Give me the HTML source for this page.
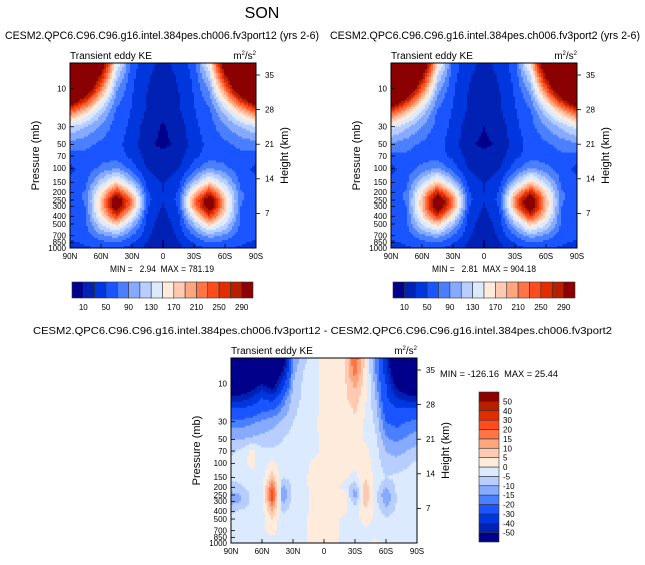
<!DOCTYPE html>
<html><head><meta charset="utf-8">
<style>
body{margin:0;background:#fff;width:645px;height:565px;overflow:hidden}
svg{display:block;font-family:"Liberation Sans",sans-serif}
text{white-space:pre}
</style></head>
<body>
<svg id="fig" width="645" height="565" viewBox="0 0 645 565">
<text x="262" y="18" font-size="16" text-anchor="middle">SON</text>
</svg>
<script>
const levels=[5,7,10,15,20,30,50,70,100,150,200,250,300,400,500,700,850,1000];
const lats13=[90,75,60,45,30,15,0,-15,-30,-45,-60,-75,-90];
const lats19=[90,80,70,60,50,40,30,20,10,0,-10,-20,-30,-40,-50,-60,-70,-80,-90];
const keBounds=[10,30,50,70,90,110,130,150,170,190,210,230,250,270,290];
const keLabels=["10","50","90","130","170","210","250","290"];
const diffBounds=[-50,-40,-30,-20,-15,-10,-5,0,5,10,15,20,30,40,50];
const diffLabels=["-50","-40","-30","-20","-15","-10","-5","0","5","10","15","20","30","40","50"];
const colors=["#00008b","#0021b3","#0036dd","#1a55ff","#4a80ff","#86aaff","#b7ceff","#dceaff","#ffebdc","#ffcab1","#ffa67f","#ff7547","#ff4c1f","#e22d00","#b42000","#8b0000"];
const pTicks=[10,30,50,70,100,150,200,250,300,400,500,700,850,1000];
const hTicks=[35,28,21,14,7];
const xTicks=["90N","60N","30N","0","30S","60S","90S"];
const ke1=[
[400,400,330,150,60,35,25,35,60,150,330,400,400],
[400,400,280,120,55,32,22,32,55,120,280,400,400],
[400,360,220,95,52,30,20,30,52,95,220,360,400],
[320,240,150,75,50,28,18,28,50,75,150,240,320],
[220,170,115,65,48,26,14,26,48,65,115,170,220],
[130,110,85,60,45,18,8,18,45,60,85,110,130],
[80,75,65,55,42,12,7,12,42,55,65,75,80],
[60,65,60,58,45,20,14,20,45,58,60,65,60],
[45,58,75,90,60,28,20,28,60,90,75,58,45],
[55,65,120,170,110,42,28,42,110,170,120,65,55],
[60,72,160,260,170,52,30,52,170,260,160,72,60],
[60,72,180,330,215,56,32,56,215,330,180,72,60],
[60,70,180,330,205,52,28,52,205,330,180,70,60],
[58,68,160,250,150,44,22,44,150,250,160,68,58],
[55,65,130,180,110,40,18,40,110,180,130,65,55],
[52,58,85,100,70,34,14,34,70,100,85,58,52],
[48,52,65,70,52,28,8,28,52,70,65,52,48],
[45,48,52,52,42,25,8,25,42,52,52,48,45]];
const ke2=[
[420,420,360,165,62,35,25,35,62,165,360,420,420],
[420,420,300,130,57,32,22,32,57,130,300,420,420],
[420,380,235,100,53,30,20,30,53,100,235,380,420],
[340,255,160,78,50,28,18,28,50,78,160,255,340],
[235,180,120,66,48,26,14,26,48,66,120,180,235],
[140,115,88,62,45,18,10,18,45,62,88,115,140],
[85,78,66,56,42,12,7,12,42,56,66,78,85],
[62,66,60,58,45,20,14,20,45,58,60,66,62],
[45,58,76,92,60,28,20,28,60,92,76,58,45],
[55,65,122,175,112,42,28,42,112,175,122,65,55],
[60,72,165,270,175,52,30,52,175,270,165,72,60],
[60,72,185,345,220,56,32,56,220,345,185,72,60],
[60,70,185,345,210,52,28,52,210,345,185,70,60],
[58,68,162,255,152,44,22,44,152,255,162,68,58],
[55,65,132,182,110,40,18,40,110,182,132,65,55],
[52,58,85,100,70,34,14,34,70,100,85,58,52],
[48,52,65,70,52,28,8,28,52,70,65,52,48],
[45,48,52,52,42,25,8,25,42,52,52,48,45]];
const diff=[
[-80,-80,-80,-70,-80,-60,-15,-6,-3,2,3,5,20,3,-15,-35,-80,-80,-80],
[-80,-80,-75,-60,-70,-50,-12,-5,-3,2,3,5,18,3,-15,-35,-70,-80,-80],
[-70,-70,-60,-50,-60,-35,-10,-4,-3,2,3,4,12,2,-12,-30,-55,-70,-70],
[-45,-45,-40,-30,-35,-20,-8,-4,-2,2,3,4,8,1,-10,-28,-40,-45,-45],
[-30,-30,-28,-22,-22,-15,-7,-3,-2,2,3,3,6,0,-8,-25,-30,-30,-30],
[-18,-18,-16,-14,-12,-9,-5,-3,-1,2,3,2,4,-1,-6,-20,-22,-20,-18],
[-10,-10,-9,-8,-7,-5,-3,-2,-1,1,2,1,2,-1,-4,-14,-16,-14,-12],
[-6,-4,2,-4,-4,-4,-3,-2,-1,1,1,1,2,2,-3,-10,-12,-10,-8],
[-4,-3,2,-3,2,-3,-3,-2,1,1,1,2,2,3,-3,-7,-8,-6,-4],
[-3,-3,-2,-2,8,-5,-3,-1,2,1,1,1,-2,5,-2,-5,-4,-3,-3],
[-8,-6,-3,-3,20,-12,-4,-1,1,2,2,-2,-10,8,-2,-10,-4,-3,-3],
[-12,-10,-4,-3,25,-15,-3,-1,1,2,2,3,-14,10,-3,-15,-5,-3,-3],
[-12,-10,-4,-3,20,-12,-3,-1,1,2,1,2,-8,8,-3,-13,-5,-3,-3],
[-6,-4,-3,-2,10,-6,-2,-1,1,2,1,1,-3,4,-2,-8,-4,-3,-3],
[-3,-3,-2,-2,5,-4,-2,-1,2,2,1,-1,-2,2,-1,-4,-3,-3,-3],
[-2,-2,-2,-1,2,-3,-2,-1,2,3,1,-1,-1,-1,-1,-2,-2,-2,-2],
[-2,-2,-2,-1,-1,-2,-1,-1,2,3,1,-1,-1,-1,-1,-2,-2,-2,-2],
[-2,-2,-3,-6,-2,-1,-1,-1,3,3,1,-1,-1,-1,2,-1,-2,-2,-2]];

const NS="http://www.w3.org/2000/svg";
const fig=document.getElementById('fig');
function el(tag,attrs,parent,txt){const e=document.createElementNS(NS,tag);for(const k in attrs)e.setAttribute(k,attrs[k]);if(txt!==undefined)e.textContent=txt;(parent||fig).appendChild(e);return e;}
const PTOP=4.76,PBOT=1000;
function bin(v,b){let i=0;while(i<b.length&&v>=b[i])i++;return i;}
function interp(lats,vals,lat,p){
  const lp=Math.log(p);let r=0;
  while(r<levels.length-2&&p>levels[r+1])r++;
  let ty=(lp-Math.log(levels[r]))/(Math.log(levels[r+1])-Math.log(levels[r]));ty=Math.max(0,Math.min(1,ty));
  const step=(lats[0]-lats[lats.length-1])/(lats.length-1);
  let fx=(lats[0]-lat)/step;let c=Math.min(lats.length-2,Math.max(0,Math.floor(fx)));let tx=Math.max(0,Math.min(1,fx-c));
  const a=vals[r][c]*(1-tx)+vals[r][c+1]*tx,b=vals[r+1][c]*(1-tx)+vals[r+1][c+1]*tx;
  return a*(1-ty)+b*ty;}
function panel(g,x0,y0,w,h,lats,vals,bounds,name){
  const yP=p=>y0+h*(Math.log(p)-Math.log(PTOP))/(Math.log(PBOT)-Math.log(PTOP));
  const cg=el('g',{},g);
  
  
  const NX=93,NY=93,dx=w/NX,dy=h/NY;
  for(let j=0;j<NY;j++){
    const py=y0+(j+0.5)*dy;
    const p=Math.exp(Math.log(PTOP)+(py-y0)/h*(Math.log(PBOT)-Math.log(PTOP)));
    let start=0,cur=-1;
    for(let i=0;i<=NX;i++){
      let b=-2;
      if(i<NX){const lat=90-180*(i+0.5)/NX;b=bin(interp(lats,vals,lat,p),bounds);}
      if(b!==cur){
        if(cur>=0){const r=el('rect',{x:(x0+start*dx).toFixed(2),y:(y0+j*dy).toFixed(2),width:((i-start)*dx+0.4).toFixed(2),height:(dy+0.4).toFixed(2),fill:colors[cur]},cg);
          
          }
        cur=b;start=i;}
    }
  }
  const fr=el('rect',{x:x0,y:y0,width:w,height:h,fill:'none',stroke:'#000','stroke-width':1},g);
  
  
  pTicks.forEach(p=>{const y=yP(p);
    el('line',{x1:x0,x2:x0+4,y1:y,y2:y,stroke:'#000','stroke-width':0.8},g);
    const t=el('text',{x:x0-4,y:y+2.8,'font-size':8,'text-anchor':'end'},g,String(p));
    
    });
  hTicks.forEach(k=>{const p=1000*Math.exp(-k/7);const y=yP(p);
    el('line',{x1:x0+w,x2:x0+w+4,y1:y,y2:y,stroke:'#000','stroke-width':0.8},g);
    const t=el('text',{x:x0+w+9,y:y+2.8,'font-size':8},g,String(k));
    
    });
  xTicks.forEach((s,i)=>{const x=x0+w*i/(xTicks.length-1);
    el('line',{x1:x,x2:x,y1:y0+h,y2:y0+h-4,stroke:'#000','stroke-width':0.8},g);
    const t=el('text',{x:x,y:y0+h+11,'font-size':8,'text-anchor':'middle'},g,s);
    
    });
  let t=el('text',{x:x0-31,y:y0+h/2,'font-size':11,'text-anchor':'middle',transform:`rotate(-90 ${x0-31} ${y0+h/2})`},g,'Pressure (mb)');
  
  
  t=el('text',{x:x0+w+32,y:y0+h/2,'font-size':11,'text-anchor':'middle',transform:`rotate(-90 ${x0+w+32} ${y0+h/2})`},g,'Height (km)');
  
  
  t=el('text',{x:x0,y:y0-4,'font-size':10},g,'Transient eddy KE');
  
  
  t=el('text',{x:x0+w,y:y0-4,'font-size':10,'text-anchor':'end'},g);
  t.innerHTML='m<tspan font-size="6" dy="-4">2</tspan><tspan dy="4">/s</tspan><tspan font-size="6" dy="-4">2</tspan>';
  
  
}
function hbar(g,x0,y0,w,h,labels){
  const n=colors.length,bw=w/n;
  colors.forEach((c,i)=>{const r=el('rect',{x:x0+i*bw,y:y0,width:bw,height:h,fill:c,stroke:'#333','stroke-width':0.6},g);
    
    });
  labels.forEach((s,k)=>{const t=el('text',{x:x0+(2*k+1)*bw,y:y0+h+12,'font-size':8,'text-anchor':'middle'},g,s);
    
    });
}
function vbar(g,x0,y0,w,h,labels){
  const n=colors.length,bh=h/n;
  colors.forEach((c,i)=>{const r=el('rect',{x:x0,y:y0+h-(i+1)*bh,width:w,height:bh,fill:c,stroke:'#333','stroke-width':0.6},g);
    
    });
  labels.forEach((s,k)=>{const t=el('text',{x:x0+w+4,y:y0+h-(k+1)*bh+3,'font-size':8},g,s);
    
    });
}
function txt(x,y,s,size,anchor,name,len){const a={x:x,y:y,'font-size':size,'text-anchor':anchor||'start'};
  if(len){a.textLength=len;a.lengthAdjust='spacingAndGlyphs';}
  const t=el('text',a,fig,s);
  
  
  return t;}

const g1=el('g',{});
txt(5,39,'CESM2.QPC6.C96.C96.g16.intel.384pes.ch006.fv3port12 (yrs 2-6)',11,'start','panel1-title',314);
panel(g1,70,63,186,185,lats13,ke1,keBounds,'panel1');
txt(110,272,'MIN =   2.94  MAX = 781.19',9.5,'start','panel1-minmax',104);
hbar(g1,72,282,181,16,keLabels);

const g2=el('g',{});
txt(330,39,'CESM2.QPC6.C96.C96.g16.intel.384pes.ch006.fv3port2 (yrs 2-6)',11,'start','panel2-title',310);
panel(g2,391,63,186,185,lats13,ke2,keBounds,'panel2');
txt(432,272,'MIN =   2.81  MAX = 904.18',9.5,'start','panel2-minmax',104);
hbar(g2,393,282,182,16,keLabels);

const g3=el('g',{});
txt(33,334,'CESM2.QPC6.C96.C96.g16.intel.384pes.ch006.fv3port12 - CESM2.QPC6.C96.C96.g16.intel.384pes.ch006.fv3port2',10.5,'start','panel3-title',579);
panel(g3,231,358,186,185,lats19,diff,diffBounds,'panel3');
txt(440,377,'MIN = -126.16  MAX = 25.44',9,'start','panel3-minmax',118);
vbar(g3,479,392,20,150,diffLabels);
</script>
</body></html>
